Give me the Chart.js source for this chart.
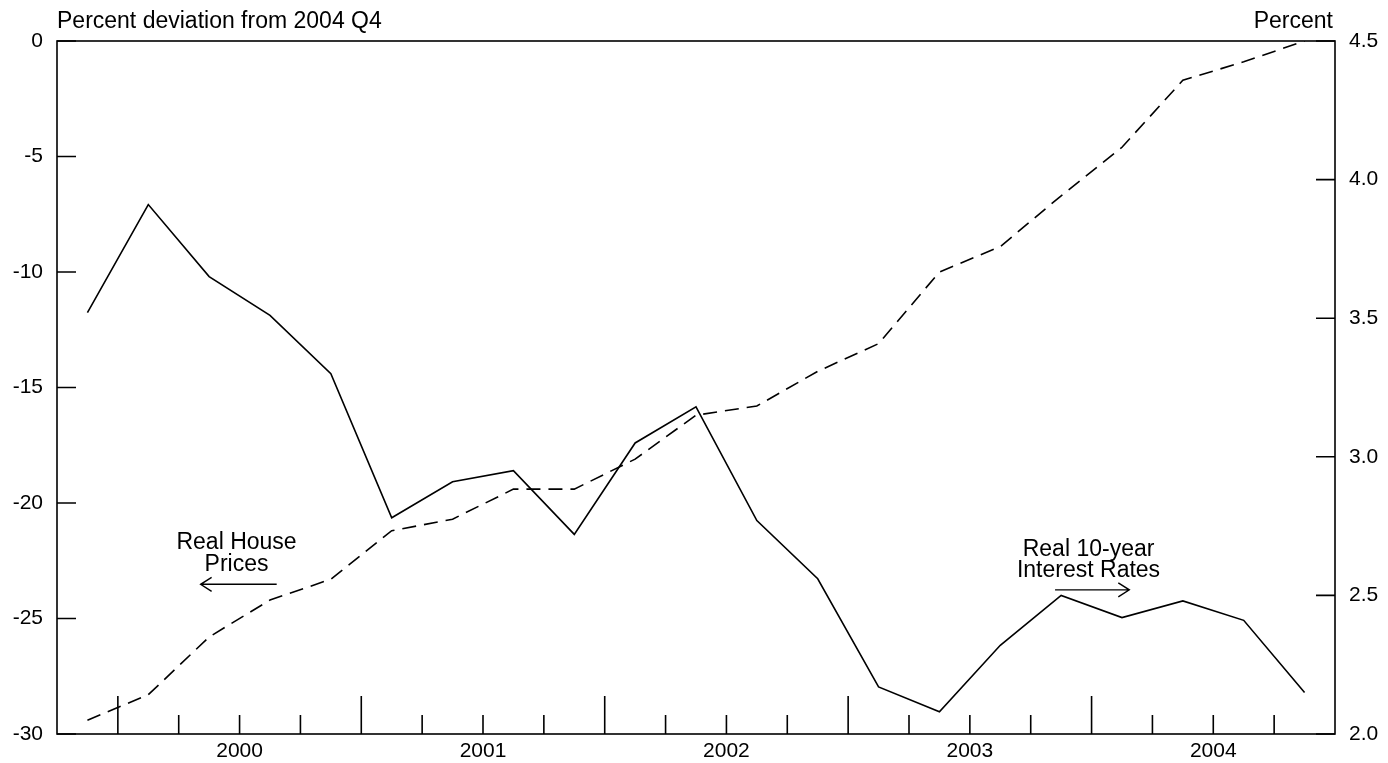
<!DOCTYPE html>
<html>
<head>
<meta charset="utf-8">
<script src="https://cdn.jsdelivr.net/npm/chart.js@4/dist/chart.umd.min.js"></script>
<style>
  html, body { margin: 0; padding: 0; background: #fff; }
  #wrap { width: 1388px; height: 763px; position: relative; }
</style>
</head>
<body>
<div id="wrap"><canvas id="chart"></canvas></div>
<script>
// quarters 1999 Q4 .. 2004 Q4
const quarters = [
  "1999 Q4",
  "2000 Q1", "2000 Q2", "2000 Q3", "2000 Q4",
  "2001 Q1", "2001 Q2", "2001 Q3", "2001 Q4",
  "2002 Q1", "2002 Q2", "2002 Q3", "2002 Q4",
  "2003 Q1", "2003 Q2", "2003 Q3", "2003 Q4",
  "2004 Q1", "2004 Q2", "2004 Q3", "2004 Q4",
];
// percent deviation from 2004 Q4 (left axis)
const housePrices = [
  -29.4, -28.3, -25.8, -24.2, -23.3, -21.2, -20.7, -19.4, -19.4, -18.1, -16.2,
  -15.8, -14.3, -13.1, -10.0, -8.9, -6.7, -4.6, -1.7, -0.9, 0,
];
// percent (right axis)
const interestRates = [
  3.52, 3.91, 3.65, 3.51, 3.30, 2.78, 2.91, 2.95, 2.72, 3.05, 3.18,
  2.77, 2.56, 2.17, 2.08, 2.32, 2.50, 2.42, 2.48, 2.41, 2.15,
];
const years = ["2000", "2001", "2002", "2003", "2004"];
const leftTicks = [0, -5, -10, -15, -20, -25, -30];
const rightTicks = [2.0, 2.5, 3.0, 3.5, 4.0, 4.5];

const FONT = "'Liberation Sans', Arial, Helvetica, sans-serif";
const FS = 21; // tick labels
const TS = 23; // titles and notes

// year label sits in the middle of its four quarters
const yearCenters = years.map((y, k) => 2.5 + 4 * k);

const framePlugin = {
  id: "frame",
  afterDraw(chart) {
    const ctx = chart.ctx;
    const a = chart.chartArea;
    const xs = chart.scales.x;
    const yl = chart.scales.y;
    const yr = chart.scales.y2;
    ctx.save();
    ctx.strokeStyle = "#000";
    ctx.lineWidth = 1.6;
    ctx.strokeRect(a.left, a.top, a.right - a.left, a.bottom - a.top);

    // inward ticks
    ctx.beginPath();
    leftTicks.forEach((v) => {
      const y = yl.getPixelForValue(v);
      ctx.moveTo(a.left, y);
      ctx.lineTo(a.left + 19, y);
    });
    rightTicks.forEach((v) => {
      const y = yr.getPixelForValue(v);
      ctx.moveTo(a.right, y);
      ctx.lineTo(a.right - 19, y);
    });
    for (let k = 0; k < quarters.length - 1; k++) {
      const x = xs.getPixelForValue(k + 0.5);
      const len = k % 4 === 0 ? 38 : 19;
      ctx.moveTo(x, a.bottom);
      ctx.lineTo(x, a.bottom - len);
    }
    ctx.stroke();

    // axis titles
    ctx.fillStyle = "#000";
    ctx.font = TS + "px " + FONT;
    ctx.textBaseline = "middle";
    ctx.textAlign = "left";
    ctx.fillText("Percent deviation from 2004 Q4", a.left, 22);
    ctx.textAlign = "right";
    ctx.fillText("Percent", a.right - 2, 22);

    // series notes
    ctx.textAlign = "center";
    const hx = xs.getPixelForValue(2.45);
    ctx.fillText("Real House", hx, yl.getPixelForValue(-21.7));
    ctx.fillText("Prices", hx, yl.getPixelForValue(-22.65));
    const rx = xs.getPixelForValue(16.45);
    ctx.fillText("Real 10-year", rx, yr.getPixelForValue(2.665));
    ctx.fillText("Interest Rates", rx, yr.getPixelForValue(2.59));

    ctx.lineWidth = 1.4;
    arrow(ctx, xs.getPixelForValue(3.11), xs.getPixelForValue(1.86), yl.getPixelForValue(-23.52));
    arrow(ctx, xs.getPixelForValue(15.9), xs.getPixelForValue(17.12), yr.getPixelForValue(2.52));
    ctx.restore();
  },
};

function arrow(ctx, x0, x1, y) {
  const d = x1 > x0 ? -1 : 1;
  ctx.beginPath();
  ctx.moveTo(x0, y);
  ctx.lineTo(x1, y);
  ctx.moveTo(x1 + d * 11, y - 7);
  ctx.lineTo(x1, y);
  ctx.lineTo(x1 + d * 11, y + 7);
  ctx.stroke();
}

new Chart(document.getElementById("chart"), {
  type: "line",
  data: {
    datasets: [
      {
        label: "Real House Prices",
        data: housePrices.map((v, i) => ({ x: i, y: v })),
        yAxisID: "y",
        borderColor: "#000",
        borderWidth: 1.6,
        borderDash: [14, 8],
        pointRadius: 0,
        tension: 0,
      },
      {
        label: "Real 10-year Interest Rates",
        data: interestRates.map((v, i) => ({ x: i, y: v })),
        yAxisID: "y2",
        borderColor: "#000",
        borderWidth: 1.6,
        pointRadius: 0,
        tension: 0,
      },
    ],
  },
  options: {
    responsive: true,
    maintainAspectRatio: false,
    animation: false,
    layout: { padding: { top: 41, left: 0, right: 0, bottom: 0 } },
    plugins: { legend: { display: false }, tooltip: { enabled: false } },
    scales: {
      x: {
        type: "linear",
        min: -0.5,
        max: 20.5,
        grid: { display: false, drawTicks: false },
        border: { display: false },
        afterBuildTicks: (s) => {
          s.ticks = yearCenters.map((v) => ({ value: v }));
        },
        afterFit: (s) => {
          s.height = 29;
        },
        ticks: {
          autoSkip: false,
          maxRotation: 0,
          padding: 5,
          color: "#000",
          font: { family: FONT, size: FS },
          callback: (v) => years[yearCenters.indexOf(v)],
        },
      },
      y: {
        position: "left",
        min: -30,
        max: 0,
        grid: { display: false, drawTicks: false },
        border: { display: false },
        afterBuildTicks: (s) => {
          s.ticks = leftTicks.map((v) => ({ value: v }));
        },
        afterFit: (s) => {
          s.width = 57;
        },
        ticks: {
          padding: 14,
          color: "#000",
          font: { family: FONT, size: FS },
          callback: (v) => String(v),
        },
      },
      y2: {
        position: "right",
        min: 2.0,
        max: 4.5,
        grid: { display: false, drawTicks: false },
        border: { display: false },
        afterBuildTicks: (s) => {
          s.ticks = rightTicks.map((v) => ({ value: v }));
        },
        afterFit: (s) => {
          s.width = 53;
        },
        ticks: {
          padding: 14,
          color: "#000",
          font: { family: FONT, size: FS },
          callback: (v) => Number(v).toFixed(1),
        },
      },
    },
  },
  plugins: [framePlugin],
});
</script>
</body>
</html>
